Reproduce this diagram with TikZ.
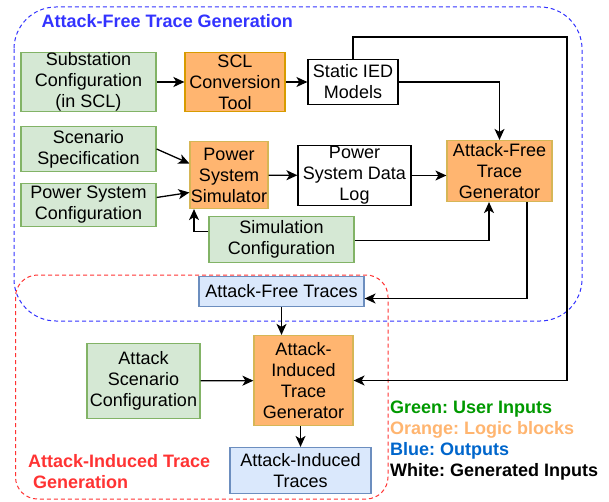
\documentclass[tikz,border=0pt]{standalone}
\usepackage{fontspec}
\setmainfont{Liberation Sans}
\usetikzlibrary{arrows.meta}

\definecolor{inputFill}{HTML}{D5E8D4}
\definecolor{inputDraw}{HTML}{82B366}
\definecolor{logicFill}{HTML}{FFB570}
\definecolor{logicDraw}{HTML}{D6B656}
\definecolor{sclDraw}{HTML}{D79B00}
\definecolor{outputFill}{HTML}{DAE8FC}
\definecolor{outputDraw}{HTML}{6C8EBF}
\definecolor{freeBlue}{HTML}{3333FF}
\definecolor{inducedRed}{HTML}{FF3333}
\definecolor{legendGreen}{HTML}{009900}
\definecolor{legendBlue}{HTML}{0066CC}

\newcommand{\boxLineWidth}{1.2pt}
\newcommand{\arrowLineWidth}{1.3pt}
\newcommand{\groupLineWidth}{1pt}
\newcommand{\boxFont}{\fontsize{18}{21}\selectfont}

\tikzset{
  block/.style={draw, line width=\boxLineWidth, align=center, inner sep=0pt, font=\boxFont},
  userinput/.style={block, fill=inputFill, draw=inputDraw},
  logic/.style={block, fill=logicFill, draw=logicDraw},
  output/.style={block, fill=outputFill, draw=outputDraw},
  generated/.style={block, fill=white, draw=black},
  flow/.style={-{Stealth[length=11pt,width=10pt,inset=3pt]}, line width=\arrowLineWidth},
  group/.style={line width=\groupLineWidth, dash pattern=on 4pt off 3pt},
}

\begin{document}
\begin{tikzpicture}[x=1pt, y=-1pt]
        \useasboundingbox (0,0) rectangle (609,502);

        % Groups
        \draw [group, draw=freeBlue, rounded corners=42pt] (14,7) rectangle (582,321);
        \draw [group, draw=inducedRed, rounded corners=22pt] (15.5,275) rectangle (388,499);
        \node [anchor=west, font=\boxFont\bfseries, text=freeBlue, inner sep=0pt] (freeTitle) at (41.5,21) {Attack-Free Trace Generation};
        \node [anchor=west, align=left, font=\boxFont\bfseries, text=inducedRed, inner sep=0pt] (inducedTitle) at (28,472) {Attack-Induced Trace\\\hspace*{5pt}Generation};

        % Attack-free blocks
        \node [userinput, minimum width=135pt, minimum height=59pt] (substation) at (88.5,82) {Substation\\Configuration\\(in SCL)};
        \node [logic, draw=sclDraw, minimum width=100pt, minimum height=59pt] (sclTool) at (235,82) {SCL\\Conversion\\Tool};
        \node [generated, minimum width=90pt, minimum height=45pt] (iedModels) at (353,82) {Static IED\\Models};
        \node [userinput, minimum width=135pt, minimum height=45pt] (scenarioSpec) at (88.5,149) {Scenario\\Specification};
        \node [userinput, minimum width=135pt, minimum height=43pt] (powerConfig) at (88.5,205) {Power System\\Configuration};
        \node [logic, minimum width=78pt, minimum height=67pt] (simulator) at (229,175) {Power\\System\\Simulator};
        \node [generated, minimum width=113pt, minimum height=60pt] (dataLog) at (354.5,175.5) {Power\\System Data\\Log};
        \node [logic, minimum width=105pt, minimum height=61pt] (freeGen) at (499.5,171) {Attack-Free\\Trace\\Generator};
        \node [userinput, minimum width=145pt, minimum height=46pt] (simConfig) at (281.5,239.5) {Simulation\\Configuration};
        \node [output, minimum width=165pt, minimum height=30pt] (freeTraces) at (281.5,291.5) {Attack-Free Traces};

        % Attack-induced blocks
        \node [userinput, minimum width=113pt, minimum height=75pt] (attackConfig) at (143.5,381) {Attack\\Scenario\\Configuration};
        \node [logic, minimum width=99pt, minimum height=90pt] (inducedGen) at (303.5,380.5) {Attack-\\Induced\\Trace\\Generator};
        \node [output, minimum width=141pt, minimum height=46pt] (inducedTraces) at (300.5,470.5) {Attack-Induced\\Traces};

        % Legend
        \node [anchor=west, align=left, font=\boxFont\bfseries\frenchspacing, inner sep=0pt] (legend) at (390,441) {\textcolor{legendGreen}{Green: User Inputs}\\\textcolor{logicFill}{Orange: Logic blocks}\\\textcolor{legendBlue}{Blue: Outputs}\\White: Generated Inputs};

        % Draw attack-free flow
        \coordinate (topRight) at (567,37);
        \draw [flow, line width=2pt] (substation) -- (sclTool);
        \draw [flow] (sclTool) -- (iedModels);
        \draw [flow] (iedModels.east) -| (freeGen.north);
        \draw [flow] (scenarioSpec.east) -- ([yshift=11.5pt]simulator.west);
        \draw [flow] ([yshift=7.5pt]powerConfig.east) -- ([yshift=-17.5pt]simulator.west);
        \draw [flow] (simulator) -- (dataLog);
        \draw [flow] (dataLog.east) -- (dataLog.east -| freeGen.west);
        \draw [flow] ([yshift=8pt]simConfig.west) -| ([xshift=-35pt]simulator.south);
        \draw [flow] ([yshift=-1pt]simConfig.east) -| ([xshift=-10.5pt]freeGen.south);
        \draw [flow] ([xshift=27.5pt]freeGen.south) |- ([yshift=-7pt]freeTraces.east);

        % Draw attack-induced flow
        \draw [flow] (iedModels.north) |- (topRight) |- (inducedGen.east);
        \draw [flow] (freeTraces.south) -- (freeTraces.south |- inducedGen.north);
        \draw [flow] (attackConfig) -- (inducedGen);
        \draw [flow] (inducedTraces.north |- inducedGen.south) -- (inducedTraces.north);
    \end{tikzpicture}
\end{document}
